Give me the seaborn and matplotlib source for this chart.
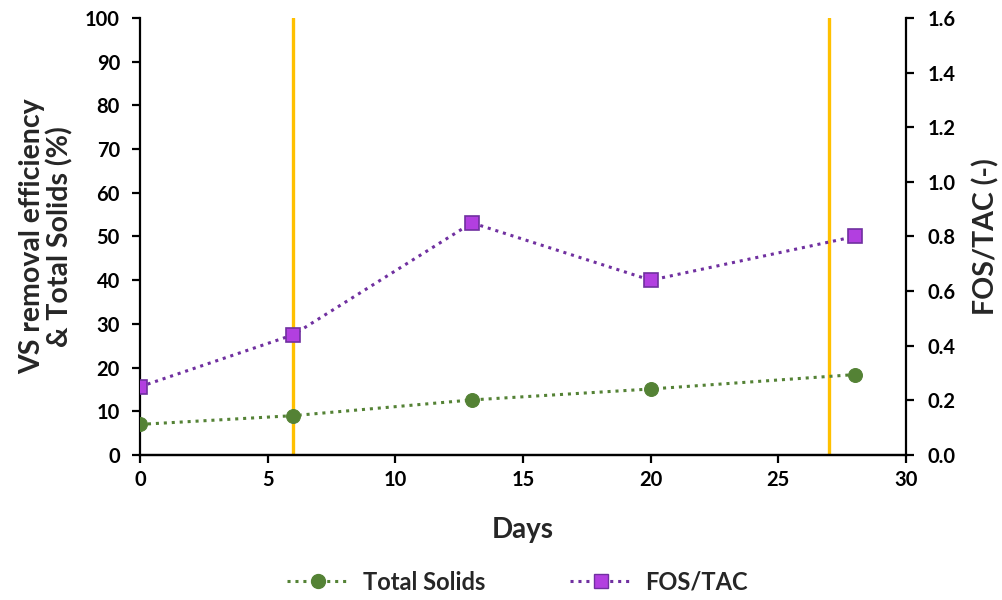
import matplotlib
matplotlib.use("Agg")
import matplotlib.pyplot as plt
import seaborn as sns
import pandas as pd
from matplotlib.lines import Line2D

# Measurements
days = [0, 6, 13, 20, 28]
total_solids = [7.0, 9.0, 12.6, 15.1, 18.4]
fos_tac = [0.25, 0.44, 0.85, 0.64, 0.80]
event_days = [6, 27]

left_ticks = [0, 10, 20, 30, 40, 50, 60, 70, 80, 90, 100]
right_ticks = [0.0, 0.2, 0.4, 0.6, 0.8, 1.0, 1.2, 1.4, 1.6]
x_ticks = [0, 5, 10, 15, 20, 25, 30]

sns.set_theme(style="white")
plt.rcParams["font.family"] = ["Lato", "DejaVu Sans"]
plt.rcParams["font.weight"] = "bold"

GREEN = "#548235"
PURPLE_LINE = "#7030A0"
PURPLE_FILL = "#B23FE0"
ORANGE = "#FFC000"

df = pd.DataFrame({"Days": days, "TS": total_solids, "FT": fos_tac})

fig = plt.figure(figsize=(10.03, 6.0), dpi=100)
ax = fig.add_axes([0.1396, 0.2417, 0.9033 - 0.1396, 0.97 - 0.2417])
ax2 = ax.twinx()

for d in event_days:
    ax.axvline(d, color=ORANGE, lw=2.4, zorder=1)

sns.lineplot(data=df, x="Days", y="TS", ax=ax, color=GREEN, lw=2.2,
             linestyle=(0, (1, 1.6)), marker="o", markersize=10,
             markerfacecolor=GREEN, markeredgecolor=GREEN, zorder=3)
sns.lineplot(data=df, x="Days", y="FT", ax=ax2, color=PURPLE_LINE, lw=2.2,
             linestyle=(0, (1, 1.6)), marker="s", markersize=10,
             markerfacecolor=PURPLE_FILL, markeredgecolor=PURPLE_LINE,
             markeredgewidth=1.2, zorder=3)

ax.set_xlim(0, 30)
ax.set_ylim(0, 100)
ax2.set_ylim(0, 1.6)
ax.set_xticks(x_ticks)
ax.set_yticks(left_ticks)
ax2.set_yticks(right_ticks)
ax2.set_yticklabels([f"{v:.1f}" for v in right_ticks])

for a in (ax, ax2):
    a.spines["top"].set_visible(False)
    for s in ("left", "right", "bottom"):
        a.spines[s].set_color("black")
        a.spines[s].set_linewidth(1.6)
    a.tick_params(direction="out", length=5.5, width=1.6, colors="black",
                  labelsize=14.5, pad=5)
    for lab in a.get_xticklabels() + a.get_yticklabels():
        lab.set_fontweight("bold")
ax.spines["right"].set_visible(False)
ax2.spines["left"].set_visible(False)
ax.tick_params(axis="y", left=True, pad=9)
ax.tick_params(axis="x", bottom=True, pad=5)
ax2.tick_params(axis="y", right=True, pad=10)

ax.set_xlabel("Days", fontsize=20, fontweight="bold", labelpad=20)
ax.set_ylabel("VS removal efficiency\n& Total Solids (%)", fontsize=20.5,
              fontweight="bold", labelpad=8, linespacing=1.05)
ax2.set_ylabel("FOS/TAC (-)", fontsize=20.5, fontweight="bold", labelpad=12)

handles = [
    Line2D([], [], color=GREEN, lw=2.2, linestyle=(0, (1, 1.6)), marker="o",
           markersize=10, markerfacecolor=GREEN, markeredgecolor=GREEN),
    Line2D([], [], color=PURPLE_LINE, lw=2.2, linestyle=(0, (1, 1.6)), marker="s",
           markersize=10, markerfacecolor=PURPLE_FILL, markeredgecolor=PURPLE_LINE),
]
fig.legend(handles, ["Total Solids", "FOS/TAC"], loc="center",
           bbox_to_anchor=(0.516, 0.03), ncol=2, frameon=False,
           prop={"size": 17, "weight": "bold"}, handlelength=2.6,
           columnspacing=3.6, handletextpad=0.6)

fig.savefig("out.png", dpi=100)
